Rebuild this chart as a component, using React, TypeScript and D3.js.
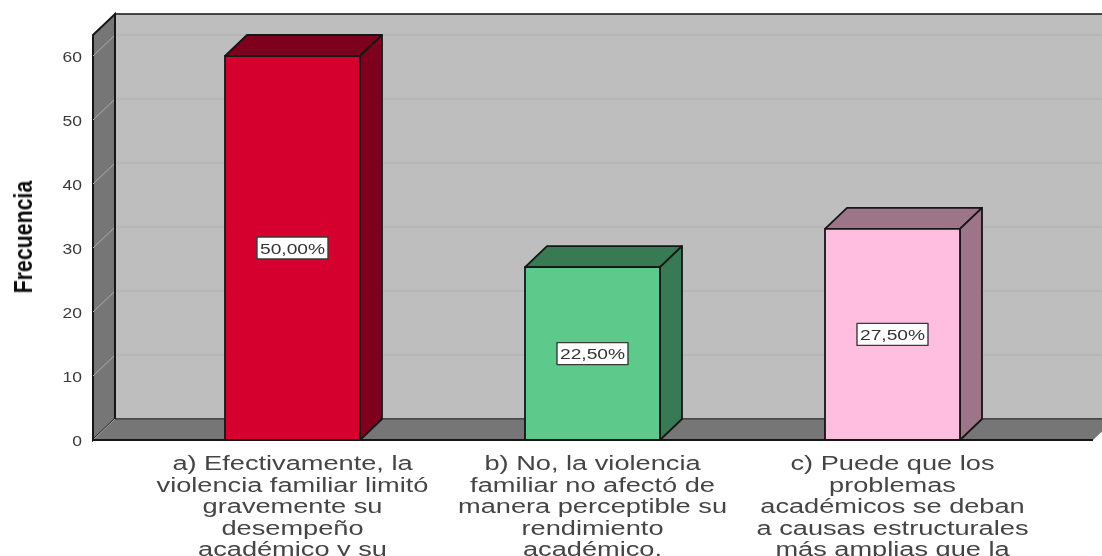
import React from "react";
import * as d3 from "d3";

const categories = ["a", "b", "c"];
const counts = [60, 27, 33];
const percentLabels = ["50,00%", "22,50%", "27,50%"];
const yTicks = [0, 10, 20, 30, 40, 50, 60];
const frontColors = ["#d6002e", "#5dc98a", "#ffbde0"];
const sideColors = ["#7f001c", "#387a53", "#9c7688"];
const categoryLines = [
  ["a) Efectivamente, la", "violencia familiar limitó", "gravemente su", "desempeño", "académico y su"],
  ["b) No, la violencia", "familiar no afectó de", "manera perceptible su", "rendimiento", "académico."],
  ["c) Puede que los", "problemas", "académicos se deban", "a causas estructurales", "más amplias que la"],
];

const W = 1102, H = 556;
const left = 93, right = 1093, base = 440;
const dx = 22, dy = 21;
const wallTop = 35;
const font = "'Liberation Sans', Arial, sans-serif";

export default function App() {
  const x = d3.scaleBand().domain(categories).range([142.5, 1042.5]).paddingInner(0.55).paddingOuter(0.275);
  const y = d3.scaleLinear().domain([0, 60]).range([base, 56]);
  const edge = "#161616";
  return (
    <svg width={W} height={H} viewBox={`0 0 ${W} ${H}`} style={{ position: "absolute", left: 0, top: 0, display: "block", background: "#fff" }}>
      <defs>
        <filter id="soft" x="-5%" y="-5%" width="110%" height="110%"><feGaussianBlur stdDeviation="0.4" /></filter>
      </defs>
      <g filter="url(#soft)">
        <rect x={left + dx} y={wallTop - dy} width={right - left} height={base - wallTop} fill="#bebebe" stroke={edge} strokeWidth={1.5} />
        <polygon points={`${left},${wallTop} ${left + dx},${wallTop - dy} ${left + dx},${base - dy} ${left},${base}`} fill="#767676" stroke={edge} strokeWidth={2} />
        <polygon points={`${left},${base} ${left + dx},${base - dy} ${right + dx},${base - dy} ${right},${base}`} fill="#767676" />
        <line x1={left + dx} x2={W} y1={base - dy} y2={base - dy} stroke="#4c4c4c" strokeWidth={1.5} />
        <line x1={left} x2={left + dx} y1={base} y2={base - dy} stroke="#a8a8a8" strokeWidth={1} />
        <line x1={left} x2={right} y1={base} y2={base} stroke={edge} strokeWidth={2} />
        {yTicks.filter(t => t > 0).map(t => (
          <g key={t}>
            <line x1={left + dx} x2={W} y1={y(t) - dy} y2={y(t) - dy} stroke="#b0b0b0" strokeWidth={1.2} />
            <line x1={left} x2={left + dx} y1={y(t)} y2={y(t) - dy} stroke="#ababab" strokeWidth={1} />
          </g>
        ))}
        <line x1={left + dx} x2={left + dx} y1={wallTop - dy} y2={base - dy} stroke={edge} strokeWidth={2} />
        {categories.map((c, i) => {
          const x0 = x(c)!, w = x.bandwidth(), t = y(counts[i]);
          const cx = x0 + w / 2, cy = (t + base) / 2;
          return (
            <g key={c} stroke={edge} strokeWidth={1.8} strokeLinejoin="round">
              <polygon points={`${x0},${t} ${x0 + dx},${t - dy} ${x0 + w + dx},${t - dy} ${x0 + w},${t}`} fill={sideColors[i]} />
              <polygon points={`${x0 + w},${t} ${x0 + w + dx},${t - dy} ${x0 + w + dx},${base - dy} ${x0 + w},${base}`} fill={sideColors[i]} />
              <rect x={x0} y={t} width={w} height={base - t} fill={frontColors[i]} />
              <rect x={cx - 35.5} y={cy - 11} width={71} height={22} fill="#fff" stroke="#3a3a3a" strokeWidth={1.4} />
              <text x={0} y={0} transform={`translate(${cx},${cy + 5.5}) scale(1.28,1)`} textAnchor="middle" fontFamily={font} fontSize={15} fill="#333" stroke="none">{percentLabels[i]}</text>
            </g>
          );
        })}
        {yTicks.map(t => (
          <text key={t} transform={`translate(82,${y(t) + 5.5}) scale(1.25,1)`} textAnchor="end" fontFamily={font} fontSize={14} fill="#3a3a3a">{t}</text>
        ))}
        <text transform="translate(32,237) rotate(-90) scale(0.82,1)" textAnchor="middle" fontFamily={font} fontSize={26} fontWeight="bold" fill="#111">Frecuencia</text>
        {categories.map((c, i) => (
          <g key={c}>
            {categoryLines[i].map((ln, j) => (
              <text key={j} transform={`translate(${x(c)! + x.bandwidth() / 2},${470 + j * 21.6}) scale(1.36,1)`} textAnchor="middle" fontFamily={font} fontSize={20} fill="#444">{ln}</text>
            ))}
          </g>
        ))}
      </g>
    </svg>
  );
}
